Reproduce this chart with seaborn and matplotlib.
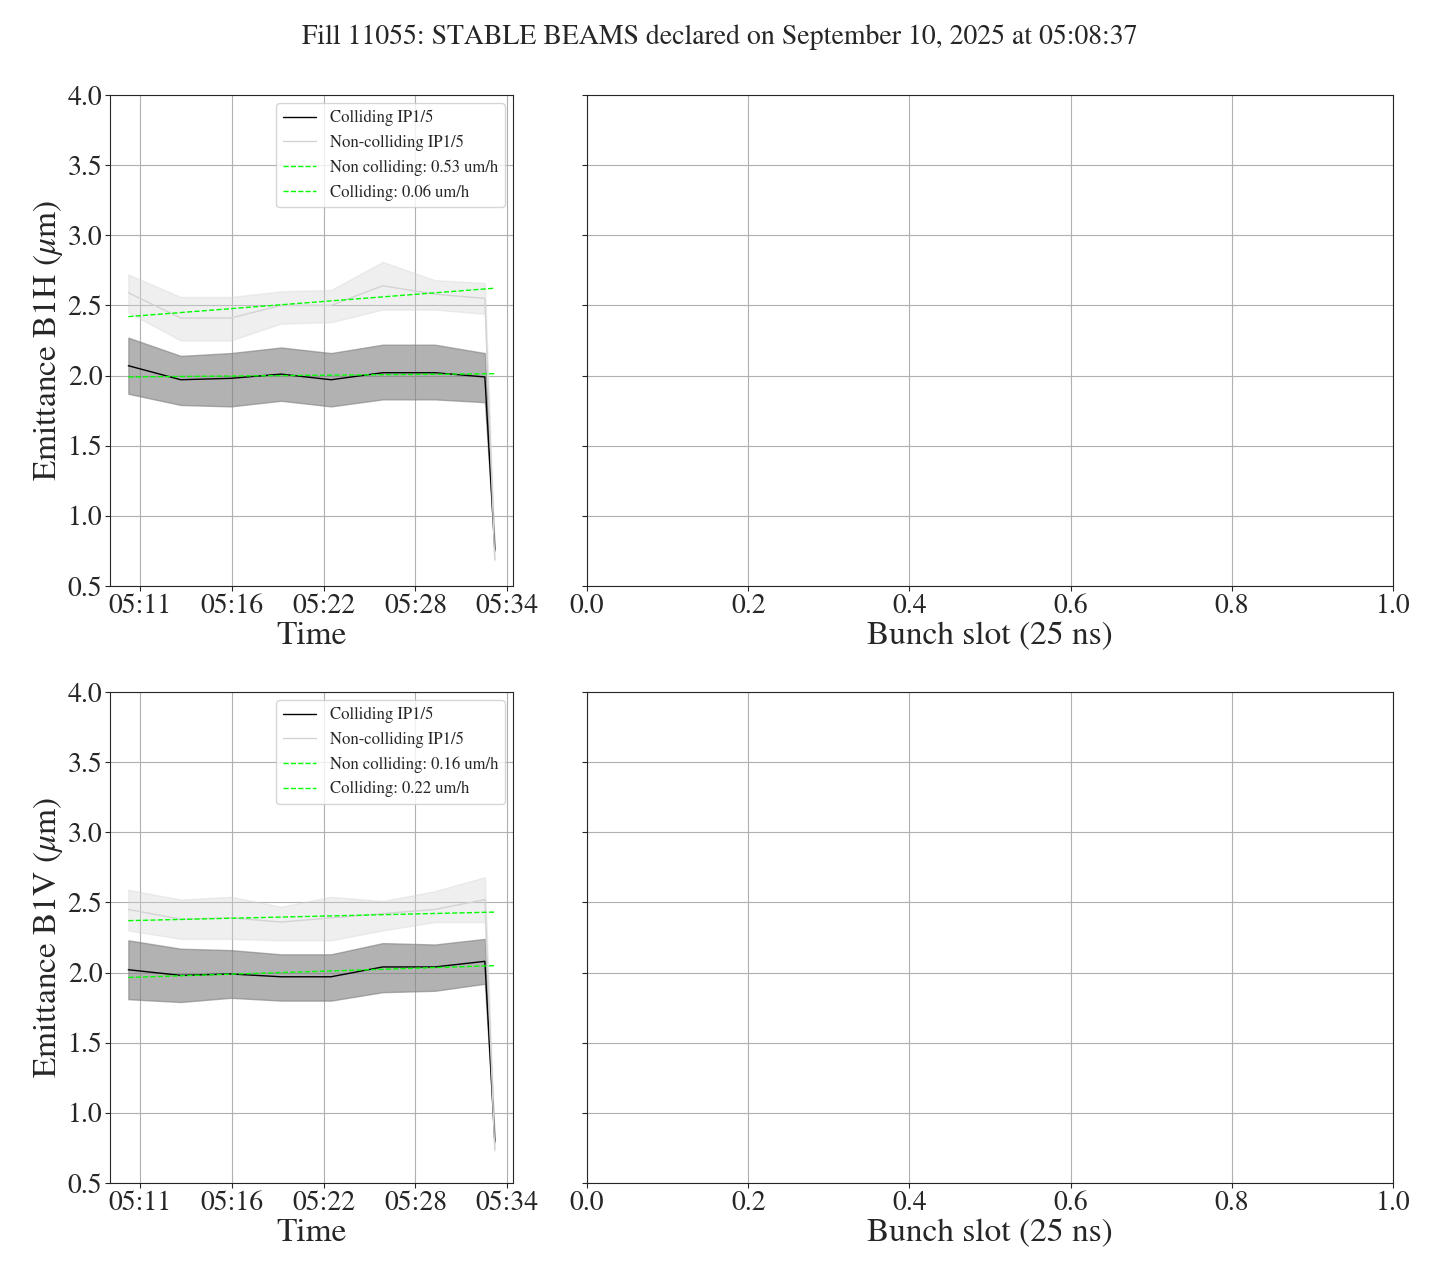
import matplotlib
matplotlib.use("Agg")
import matplotlib.pyplot as plt
import matplotlib.dates as mdates
import numpy as np
import pandas as pd
import seaborn as sns

# sample times (fill 11055, 10 Sep 2025)
times = ["05:10:16", "05:13:33", "05:16:41", "05:19:50", "05:22:58",
         "05:26:12", "05:29:28", "05:32:36", "05:33:13"]
time_ticks = ["05:11:00", "05:16:45", "05:22:30", "05:28:15", "05:34:00"]

# B1H emittance (um)
h_coll_mean = [2.07, 1.97, 1.98, 2.01, 1.97, 2.02, 2.02, 1.99, 0.76]
h_coll_lo = [1.87, 1.79, 1.78, 1.82, 1.78, 1.83, 1.83, 1.81, 0.75]
h_coll_hi = [2.27, 2.14, 2.16, 2.20, 2.16, 2.22, 2.22, 2.16, 0.77]
h_nc_mean = [2.59, 2.41, 2.41, 2.50, 2.50, 2.64, 2.58, 2.55, 0.69]
h_nc_lo = [2.45, 2.25, 2.25, 2.37, 2.38, 2.47, 2.47, 2.44, 0.68]
h_nc_hi = [2.72, 2.56, 2.56, 2.60, 2.61, 2.81, 2.68, 2.66, 0.70]

# B1V emittance (um)
v_coll_mean = [2.02, 1.98, 1.99, 1.97, 1.97, 2.04, 2.04, 2.08, 0.80]
v_coll_lo = [1.81, 1.79, 1.82, 1.80, 1.80, 1.86, 1.87, 1.92, 0.79]
v_coll_hi = [2.23, 2.17, 2.16, 2.13, 2.13, 2.21, 2.20, 2.24, 0.81]
v_nc_mean = [2.45, 2.38, 2.39, 2.36, 2.39, 2.42, 2.45, 2.52, 0.74]
v_nc_lo = [2.30, 2.24, 2.24, 2.23, 2.23, 2.30, 2.36, 2.36, 0.73]
v_nc_hi = [2.59, 2.52, 2.54, 2.47, 2.54, 2.51, 2.58, 2.68, 0.75]

# linear fits: start value (um) and slope (um/h)
h_fit = {"nc": (2.42, 0.53), "coll": (1.99, 0.06)}
v_fit = {"nc": (2.37, 0.16), "coll": (1.965, 0.22)}

sns.set_style("ticks")
plt.rcParams["font.family"] = ["STIXGeneral", "DejaVu Serif"]
plt.rcParams["mathtext.fontset"] = "stix"

t = pd.to_datetime(["2025-09-10 " + s for s in times])
hours = (t - t[0]).total_seconds() / 3600.0
ticks = pd.to_datetime(["2025-09-10 " + s for s in time_ticks])

fig, axes = plt.subplots(2, 2, figsize=(14.4, 12.8), dpi=100, sharey=True,
                         gridspec_kw={"width_ratios": [1, 2]})
fig.subplots_adjust(left=0.0764, right=0.9674, top=0.9258, bottom=0.0758,
                    hspace=0.216, wspace=0.1224)


def draw(ax, cm, clo, chi, nm, nlo, nhi, fit, plane):
    df = pd.DataFrame({"t": t, "coll": cm, "nc": nm})
    ax.fill_between(t, clo, chi, color="gray", alpha=0.6)
    sns.lineplot(data=df, x="t", y="coll", ax=ax, color="black", lw=1,
                 label="Colliding IP1/5")
    ax.fill_between(t, nlo, nhi, color="lightgray", alpha=0.35)
    sns.lineplot(data=df, x="t", y="nc", ax=ax, color="lightgray", lw=1,
                 label="Non-colliding IP1/5")
    for key, name in [("nc", "Non colliding"), ("coll", "Colliding")]:
        start, slope = fit[key]
        yfit = start + slope * np.asarray(hours)
        sns.lineplot(x=t, y=yfit, ax=ax, color="lime", lw=1, ls="--",
                     label=f"{name}: {slope:.2f} um/h")
    ax.set_ylim(0.5, 4.0)
    ax.set_yticks(np.arange(0.5, 4.01, 0.5))
    ax.set_xticks(ticks)
    ax.xaxis.set_major_formatter(mdates.DateFormatter("%H:%M"))
    ax.set_xlabel("Time", fontsize=24, labelpad=2)
    ax.set_ylabel(f"Emittance {plane} ($\\mu$m)", fontsize=24, labelpad=2)
    ax.tick_params(labelsize=20, pad=2)
    ax.grid(True, color="#b0b0b0", lw=0.8)
    ax.legend(loc="upper right", fontsize=12)


draw(axes[0, 0], h_coll_mean, h_coll_lo, h_coll_hi, h_nc_mean, h_nc_lo,
     h_nc_hi, h_fit, "B1H")
draw(axes[1, 0], v_coll_mean, v_coll_lo, v_coll_hi, v_nc_mean, v_nc_lo,
     v_nc_hi, v_fit, "B1V")

for ax in axes[:, 1]:
    ax.set_xlim(0, 1)
    ax.set_xticks(np.arange(0, 1.01, 0.2))
    ax.set_xlabel("Bunch slot (25 ns)", fontsize=24, labelpad=2)
    ax.tick_params(labelsize=20, pad=2)
    ax.grid(True, color="#b0b0b0", lw=0.8)

fig.suptitle("Fill 11055: STABLE BEAMS declared on September 10, 2025 at 05:08:37",
             fontsize=20, y=0.981)

fig.savefig("out.png", dpi=100)
